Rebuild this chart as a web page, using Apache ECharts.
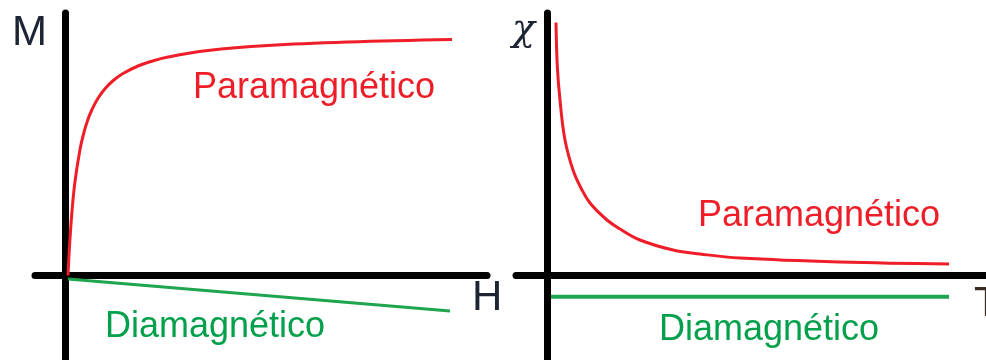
<!DOCTYPE html>
<html>
<head>
<meta charset="utf-8">
<script src="https://cdn.jsdelivr.net/npm/echarts@6/dist/echarts.min.js"></script>
<style>
  html, body { margin: 0; padding: 0; background: #fff; }
  #chart { width: 986px; height: 360px; }
</style>
</head>
<body>
<div id="chart"></div>
<script>
// Magnetisation M against field H (paramagnetic and diamagnetic)
const paraH = [0.075, 0.1, 0.125, 0.175, 0.25, 0.375, 0.475, 0.575, 0.675, 0.825, 1.0, 1.2, 1.45, 1.825, 2.125, 2.575, 3.575, 5.075, 7.075, 9.675];
const paraM = [0, 0.8, 1.48, 2.57, 3.76, 5.04, 5.73, 6.25, 6.64, 7.09, 7.47, 7.79, 8.08, 8.38, 8.55, 8.74, 9.0, 9.2, 9.34, 9.44];
const diaH = [0.075, 9.625];
const diaM = [-0.14, -1.42];

// Susceptibility chi against temperature T
const paraT = [0.225, 0.258, 0.325, 0.45, 0.65, 0.85, 1.075, 1.5, 1.825, 2.325, 3.15, 3.825, 4.825, 7.325, 10.05];
const paraChi = [10.12, 8.36, 7.02, 5.42, 4.22, 3.5, 2.9, 2.22, 1.86, 1.42, 1.02, 0.86, 0.7, 0.54, 0.46];
const diaT = [0.1, 10.05];
const diaChi = [-0.85, -0.85];

const RED = '#ee1d27';
const GREEN = '#1ea54e';
const GREEN_TEXT = '#03a04b';
const AXIS_DARK = '#1d2433';

const zip = (xs, ys) => xs.map((x, i) => [x, ys[i]]);

function valueAxis(gridIndex, min, max) {
  return {
    type: 'value', gridIndex, min, max,
    axisLine: { show: true, onZero: true, lineStyle: { color: '#000', width: 7 } },
    axisTick: { show: false },
    axisLabel: { show: false },
    splitLine: { show: false }
  };
}

const chart = echarts.init(document.getElementById('chart'), null, { renderer: 'canvas' });

const textStyleBase = { fontFamily: 'Liberation Sans, Arial, sans-serif', fontSize: 36, verticalAlign: 'middle', align: 'left' };

chart.setOption({
  animation: false,
  backgroundColor: '#fff',
  grid: [
    { left: 35, top: 13, width: 452, height: 347, containLabel: false },
    { left: 516, top: 13, width: 470, height: 347, containLabel: false }
  ],
  xAxis: [valueAxis(0, -0.75, 10.55), valueAxis(1, -0.775, 10.975)],
  yAxis: [valueAxis(0, -3.38, 10.5), valueAxis(1, -3.38, 10.5)],
  series: [
    {
      name: 'Paramagnético (M)', type: 'line', xAxisIndex: 0, yAxisIndex: 0,
      data: zip(paraH, paraM), smooth: 0.4, showSymbol: false,
      lineStyle: { color: RED, width: 3 }
    },
    {
      name: 'Diamagnético (M)', type: 'line', xAxisIndex: 0, yAxisIndex: 0,
      data: zip(diaH, diaM), showSymbol: false,
      lineStyle: { color: GREEN, width: 3 }
    },
    {
      name: 'Paramagnético (χ)', type: 'line', xAxisIndex: 1, yAxisIndex: 1,
      data: zip(paraT, paraChi), smooth: 0.4, showSymbol: false,
      lineStyle: { color: RED, width: 3 }
    },
    {
      name: 'Diamagnético (χ)', type: 'line', xAxisIndex: 1, yAxisIndex: 1,
      data: zip(diaT, diaChi), showSymbol: false,
      lineStyle: { color: GREEN, width: 4 }
    }
  ],
  graphic: [
    { type: 'text', x: 193, y: 88, style: Object.assign({}, textStyleBase, { text: 'Paramagnético', fill: RED }) },
    { type: 'text', x: 105, y: 327, style: Object.assign({}, textStyleBase, { text: 'Diamagnético', fill: GREEN_TEXT }) },
    { type: 'text', x: 698, y: 216, style: Object.assign({}, textStyleBase, { text: 'Paramagnético', fill: RED }) },
    { type: 'text', x: 659, y: 330, style: Object.assign({}, textStyleBase, { text: 'Diamagnético', fill: GREEN_TEXT }) },
    { type: 'text', x: 12, y: 33, style: { text: 'M', fill: AXIS_DARK, fontFamily: 'Liberation Sans Narrow, Liberation Sans, sans-serif', fontSize: 42, verticalAlign: 'middle' } },
    { type: 'text', x: 472, y: 298, style: { text: 'H', fill: AXIS_DARK, fontFamily: 'Liberation Sans Narrow, Liberation Sans, sans-serif', fontSize: 42, verticalAlign: 'middle' } },
    { type: 'text', x: 512, y: 30, style: { text: 'χ', fill: AXIS_DARK, fontFamily: 'DejaVu Serif, serif', fontStyle: 'italic', fontSize: 38, verticalAlign: 'middle' } },
    { type: 'text', x: 974, y: 304, style: { text: 'T', fill: '#3a2c22', fontFamily: 'Liberation Sans Narrow, Liberation Sans, sans-serif', fontSize: 42, verticalAlign: 'middle' } }
  ]
});
</script>
</body>
</html>
